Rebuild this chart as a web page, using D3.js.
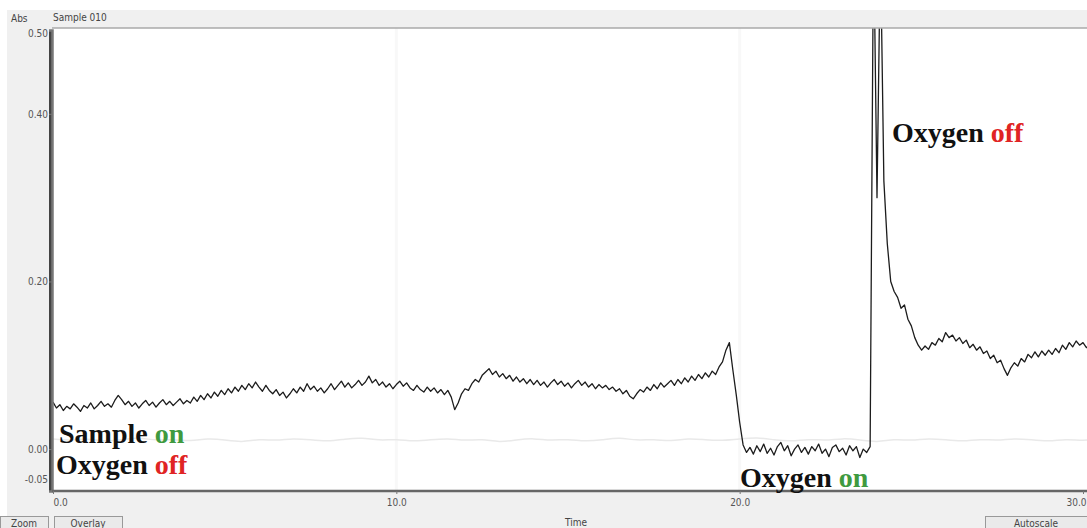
<!DOCTYPE html>
<html>
<head>
<meta charset="utf-8">
<script src="https://cdn.jsdelivr.net/npm/d3@7"></script>
<style>
  html, body { margin: 0; padding: 0; background: #fff; }
  svg { display: block; }
  .small { font-family: "Liberation Sans Narrow", "DejaVu Sans Condensed", "Liberation Sans", sans-serif; font-size: 10px; fill: #444; }
  .note { font-family: "Liberation Serif", "DejaVu Serif", serif; font-weight: bold; font-size: 28px; }
</style>
</head>
<body>
<div id="chart"></div>
<script>
// Дані: поглинання (Abs) через кожні 0.1 одиниці часу, починаючи з 0
const timeStep = 0.1;
const absValues = [
  // 0.0 – 1.9
  0.056, 0.049, 0.053, 0.046, 0.051, 0.048, 0.054, 0.050, 0.045, 0.052,
  0.049, 0.055, 0.048, 0.052, 0.057, 0.051, 0.054, 0.050, 0.058, 0.064,
  // 2.0 – 3.9
  0.059, 0.053, 0.057, 0.051, 0.055, 0.049, 0.054, 0.058, 0.052, 0.056,
  0.050, 0.055, 0.059, 0.053, 0.057, 0.052, 0.056, 0.060, 0.054, 0.058,
  // 4.0 – 5.9
  0.055, 0.062, 0.057, 0.064, 0.059, 0.066, 0.061, 0.068, 0.063, 0.070,
  0.065, 0.072, 0.067, 0.074, 0.069, 0.076, 0.071, 0.078, 0.073, 0.080,
  // 6.0 – 7.9
  0.074, 0.069, 0.076, 0.070, 0.066, 0.071, 0.064, 0.068, 0.061, 0.066,
  0.072, 0.067, 0.074, 0.069, 0.078, 0.071, 0.075, 0.069, 0.073, 0.067,
  // 8.0 – 9.9
  0.072, 0.078, 0.071, 0.076, 0.081, 0.074, 0.079, 0.073, 0.077, 0.082,
  0.076, 0.080, 0.087, 0.079, 0.083, 0.076, 0.080, 0.074, 0.078, 0.072,
  // 10.0 – 11.9
  0.077, 0.081, 0.075, 0.079, 0.073, 0.070, 0.076, 0.071, 0.068, 0.074,
  0.069, 0.073, 0.067, 0.071, 0.065, 0.070, 0.062, 0.047, 0.055, 0.066,
  // 12.0 – 13.9
  0.072, 0.070, 0.078, 0.083, 0.080, 0.088, 0.092, 0.096, 0.089, 0.093,
  0.086, 0.090, 0.084, 0.088, 0.081, 0.086, 0.080, 0.084, 0.078, 0.083,
  // 14.0 – 15.9
  0.077, 0.082, 0.076, 0.080, 0.074, 0.079, 0.083, 0.077, 0.081, 0.075,
  0.079, 0.073, 0.078, 0.082, 0.076, 0.080, 0.074, 0.078, 0.072, 0.077,
  // 16.0 – 17.9
  0.073, 0.076, 0.071, 0.074, 0.069, 0.072, 0.066, 0.070, 0.063, 0.060,
  0.066, 0.071, 0.068, 0.074, 0.070, 0.077, 0.072, 0.079, 0.074, 0.078,
  // 18.0 – 19.9
  0.082, 0.076, 0.083, 0.078, 0.085, 0.080, 0.087, 0.082, 0.089, 0.084,
  0.091, 0.086, 0.093, 0.089, 0.098, 0.104, 0.118, 0.127, 0.095, 0.065,
  // 20.0 – 21.9
  0.032, 0.005, -0.004, 0.002, -0.006, 0.004, -0.003, 0.006, -0.005, 0.001,
  -0.007, 0.003, 0.008, -0.002, 0.004, -0.008, 0.000, 0.005, -0.004, 0.002,
  // 22.0 – 23.9
  -0.006, 0.003, -0.002, 0.006, -0.005, 0.000, -0.009, 0.002, 0.005, -0.003,
  0.001, -0.007, 0.004, -0.002, 0.003, -0.010, 0.000, -0.004, 0.003, 0.620,
  // 24.0 – 25.9
  0.300, 0.600, 0.320, 0.245, 0.200, 0.188, 0.181, 0.168, 0.172, 0.155,
  0.147, 0.133, 0.124, 0.118, 0.123, 0.119, 0.127, 0.124, 0.132, 0.128,
  // 26.0 – 27.9
  0.139, 0.133, 0.136, 0.129, 0.133, 0.126, 0.130, 0.121, 0.125, 0.118,
  0.122, 0.114, 0.117, 0.108, 0.112, 0.103, 0.106, 0.096, 0.088, 0.097,
  // 28.0 – 29.9
  0.103, 0.099, 0.108, 0.104, 0.113, 0.109, 0.116, 0.110, 0.117, 0.112,
  0.118, 0.113, 0.120, 0.115, 0.124, 0.119, 0.127, 0.122, 0.129, 0.124,
  // 30.0 – 30.2
  0.127, 0.121, 0.125
];

// Бліда фонова крива (попередній запис), через кожні 0.5 одиниці часу
const ghostStep = 0.5;
const ghostValues = [
  0.012, 0.010, 0.013, 0.009, 0.011, 0.014, 0.010, 0.012, 0.009, 0.013,
  0.011, 0.008, 0.012, 0.010, 0.013, 0.011, 0.009, 0.012, 0.014, 0.010,
  0.012, 0.009, 0.011, 0.013, 0.010, 0.012, 0.008, 0.011, 0.013, 0.010,
  0.012, 0.009, 0.011, 0.014, 0.010, 0.012, 0.009, 0.013, 0.011, 0.010,
  0.012, 0.014, 0.011, 0.009, 0.012, 0.010, 0.013, 0.011, 0.008, 0.012,
  0.010, 0.013, 0.011, 0.009, 0.012, 0.010, 0.013, 0.011, 0.009, 0.012,
  0.010, 0.012
];

// Підписи осей
const xTicks = [0, 10, 20, 30];
const yTicks = [-0.05, 0.00, 0.20, 0.40, 0.50];

// Розміри
const width = 1087;
const height = 528;
const plot = { left: 52, top: 28, right: 1087, bottom: 491 };

const svg = d3.select("#chart")
  .append("svg")
  .attr("width", width)
  .attr("height", height);

// Сірий фон вікна програми
svg.append("rect")
  .attr("x", 7).attr("y", 10)
  .attr("width", width - 7).attr("height", height - 10)
  .attr("fill", "#f0f0f0");

// Біла область графіка
svg.append("rect")
  .attr("x", plot.left).attr("y", plot.top)
  .attr("width", plot.right - plot.left).attr("height", plot.bottom - plot.top)
  .attr("fill", "#fff");

// Шкали
const x = d3.scaleLinear().domain([0, 30]).range([53, 1083]);
const y = d3.scaleLinear().domain([-0.05, 0.5]).range([491, 30]);

svg.append("clipPath")
  .attr("id", "clip")
  .append("rect")
  .attr("x", plot.left).attr("y", plot.top)
  .attr("width", plot.right - plot.left).attr("height", plot.bottom - plot.top);

// Ледь помітні вертикальні лінії сітки
svg.append("g")
  .selectAll("line")
  .data(xTicks.filter(d => d > 0 && d < 30))
  .enter().append("line")
  .attr("x1", d => x(d)).attr("x2", d => x(d))
  .attr("y1", plot.top).attr("y2", plot.bottom)
  .attr("stroke", "#f8f8f8")
  .attr("stroke-width", 3);

const line = d3.line()
  .x(d => x(d.t))
  .y(d => y(d.v));

const ghost = ghostValues.map((v, i) => ({ t: i * ghostStep, v }));
const trace = absValues.map((v, i) => ({ t: i * timeStep, v }));

svg.append("path")
  .datum(ghost)
  .attr("clip-path", "url(#clip)")
  .attr("fill", "none")
  .attr("stroke", "#e9e9e9")
  .attr("stroke-width", 1.5)
  .attr("d", line.curve(d3.curveBasis));

svg.append("path")
  .datum(trace)
  .attr("clip-path", "url(#clip)")
  .attr("fill", "none")
  .attr("stroke", "#1c1c1c")
  .attr("stroke-width", 1.3)
  .attr("stroke-linejoin", "round")
  .attr("d", line.curve(d3.curveLinear));

// Верхня рамка
svg.append("line")
  .attr("x1", plot.left).attr("x2", plot.right)
  .attr("y1", plot.top).attr("y2", plot.top)
  .attr("stroke", "#aaa").attr("stroke-width", 1.5);

// Вісь Y
const yAxis = svg.append("g")
  .attr("class", "small")
  .attr("transform", `translate(${plot.left},0)`)
  .call(d3.axisLeft(y).tickValues(yTicks).tickSize(3).tickFormat(d => d.toFixed(2)));
yAxis.select(".domain").attr("stroke", "#777").attr("stroke-width", 2.5);
yAxis.selectAll(".tick line").attr("stroke", "#777");
yAxis.selectAll(".tick text").attr("fill", "#555").attr("font-size", 10).attr("x", -4);
// 0.50 трохи нижче верхньої рамки, -0.05 трохи вище осі часу
yAxis.selectAll(".tick text").filter(d => d < 0).attr("dy", "-0.9em");
yAxis.selectAll(".tick text").filter(d => d === 0.5).attr("dy", "0.6em");

// Вісь X
const xAxis = svg.append("g")
  .attr("class", "small")
  .attr("transform", `translate(0,${plot.bottom})`)
  .call(d3.axisBottom(x).tickValues(xTicks).tickSize(3).tickFormat(d => d.toFixed(1)));
xAxis.select(".domain").attr("stroke", "#666").attr("stroke-width", 2.5)
  .attr("d", `M${plot.left},0H${plot.right}`);
xAxis.selectAll(".tick line").attr("stroke", "#777");
xAxis.selectAll(".tick text").attr("fill", "#555").attr("font-size", 10).attr("y", 8);
xAxis.selectAll(".tick text").filter(d => d === 0).attr("text-anchor", "start");
xAxis.selectAll(".tick text").filter(d => d === 30).attr("text-anchor", "end").attr("dx", "3");

// Заголовки у верхній смузі
svg.append("text").attr("class", "small").attr("x", 11).attr("y", 22).text("Abs");
svg.append("text").attr("class", "small").attr("x", 53).attr("y", 21).text("Sample 010");
svg.append("text").attr("class", "small").attr("x", 565).attr("y", 526).text("Time");

// Кнопки внизу
const buttons = [
  { label: "Zoom", x: 0, w: 48 },
  { label: "Overlay", x: 54, w: 68 },
  { label: "Autoscale", x: 985, w: 102 }
];
buttons.forEach(b => {
  svg.append("rect")
    .attr("x", b.x + 0.5).attr("y", 516.5)
    .attr("width", b.w).attr("height", 14)
    .attr("fill", "#eaeaea").attr("stroke", "#999");
  svg.append("text")
    .attr("class", "small")
    .attr("x", b.x + b.w / 2).attr("y", 527)
    .attr("text-anchor", "middle")
    .text(b.label);
});

// Анотації
function note(px, py, black, colored, color) {
  const t = svg.append("text").attr("class", "note").attr("x", px).attr("y", py);
  t.append("tspan").attr("fill", "#111").text(black + " ");
  t.append("tspan").attr("fill", color).text(colored);
}
note(59, 443, "Sample", "on", "#3f9a3f");
note(56, 474, "Oxygen", "off", "#e02424");
note(740, 487, "Oxygen", "on", "#3f9a3f");
note(892, 142, "Oxygen", "off", "#e02424");
</script>
</body>
</html>
